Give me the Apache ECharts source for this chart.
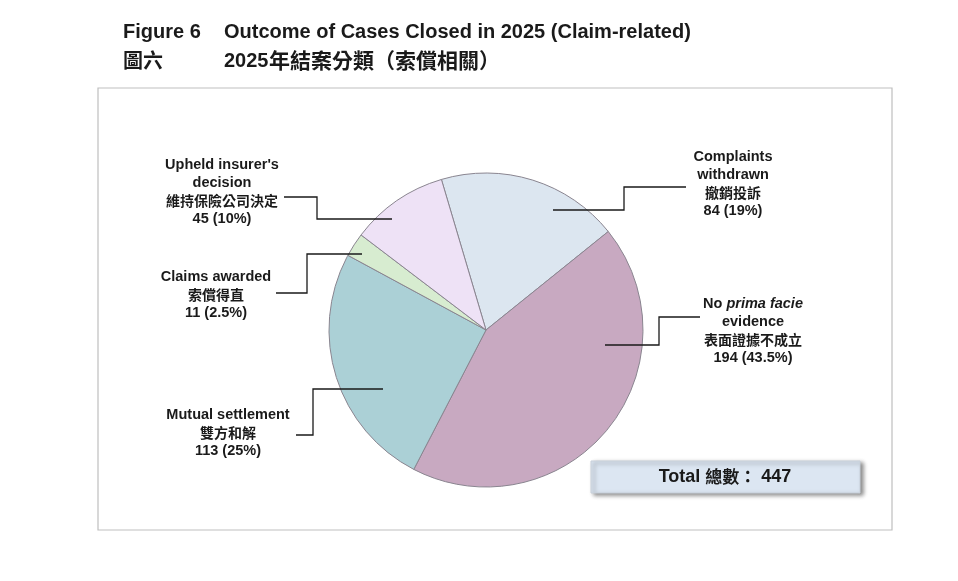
<!DOCTYPE html>
<html><head><meta charset="utf-8">
<script src="https://cdn.jsdelivr.net/npm/echarts@6/dist/echarts.min.js"></script>
<style>html,body{margin:0;padding:0;background:#fff}#c{width:958px;height:581px}</style>
</head><body><div id="c"></div>
<script>
// ---- data ----
const enLines = [["Complaints","withdrawn"],["No {i|prima facie}","evidence"],["Mutual settlement"],["Claims awarded"],["Upheld insurer's","decision"]];
const names = ["Complaints withdrawn","No prima facie evidence","Mutual settlement","Claims awarded","Upheld insurer's decision"];
const namesZh = ["撤銷投訴","表面證據不成立","雙方和解","索償得直","維持保險公司決定"];
const values = [84,194,113,11,45];
const pctLabels = ["19%","43.5%","25%","2.5%","10%"];
const colors = ["#dce6f0","#c8a9c1","#abd0d6","#d7ecd0","#eee2f6"];

// ---- layout (label centres and leader lines, px) ----
const labelPos = [[733,184],[753,331],[228,433],[216,295],[222,192]];
const leaderPts = [
  [[553,210],[624,210],[624,187],[686,187]],
  [[605,345],[659,345],[659,317],[700,317]],
  [[383,389],[313,389],[313,435],[296,435]],
  [[362,254],[307,254],[307,293],[276,293]],
  [[392,219],[317,219],[317,197],[284,197]]
];

const total = values.reduce((a,b)=>a+b,0);
const EN = "'Liberation Sans', Arial, sans-serif";
const ZH = "'Noto Sans CJK TC', 'Noto Sans CJK SC', sans-serif";
const rich = {
  b:{fontFamily:EN,fontWeight:'bold',fontSize:14.5,lineHeight:18,color:'#1a1a1a',align:'center'},
  i:{fontFamily:EN,fontWeight:'bold',fontStyle:'italic',fontSize:14.5,lineHeight:18,color:'#1a1a1a'},
  z:{fontFamily:ZH,fontWeight:'bold',fontSize:14,lineHeight:18,color:'#1a1a1a',align:'center'}
};
const pieBase = {
  type:'pie', center:[486,330], radius:157, startAngle:106.5, clockwise:true,
  avoidLabelOverlap:false, emphasis:{disabled:true}, silent:true
};

const chart = echarts.init(document.getElementById('c'));
chart.setOption({
  animation:false,
  backgroundColor:'#fff',
  graphic:[
    {type:'rect',shape:{x:98,y:88,width:794,height:442},style:{fill:'none',stroke:'#bfbfbf',lineWidth:1.2},z:0},
    {type:'text',left:123,top:22,style:{text:'Figure 6',font:"bold 20px 'Liberation Sans', Arial",fill:'#1a1a1a'}},
    {type:'text',left:224,top:22,style:{text:'Outcome of Cases Closed in 2025 (Claim-related)',font:"bold 20px 'Liberation Sans', Arial",fill:'#1a1a1a'}},
    {type:'text',style:{x:123,y:60,verticalAlign:'middle',text:'圖六',font:"bold 20px 'Noto Sans CJK TC'",fill:'#1a1a1a'}},
    {type:'text',style:{x:224,y:61,verticalAlign:'middle',text:'2025',font:"bold 20px 'Liberation Sans', Arial",fill:'#1a1a1a'}},
    {type:'text',style:{x:269,y:60,verticalAlign:'middle',text:'年結案分類（索償相關）',font:"bold 21px 'Noto Sans CJK TC'",fill:'#1a1a1a'}},
    {type:'rect',shape:{x:591,y:461,width:269,height:32},style:{fill:'#dce6f2',stroke:'#c8d0da',lineWidth:1,shadowBlur:4,shadowOffsetX:3,shadowOffsetY:2,shadowColor:'rgba(0,0,0,0.45)'},z:5},
    {type:'text',x:725,y:477,z:6,style:{rich:{a:{font:"bold 18px 'Liberation Sans', Arial",fill:'#1a1a1a'},c:{font:"bold 17px 'Noto Sans CJK TC'",fill:'#1a1a1a'}},text:'{a|Total }{c|總數：}{a| '+total+'}',align:'center',verticalAlign:'middle'}}
  ],
  series:[
    Object.assign({}, pieBase, {
      z:2,
      data: values.map((v,i)=>({name:names[i],value:v,itemStyle:{color:colors[i]}})),
      itemStyle:{borderColor:'#8a8590',borderWidth:1},
      label:{show:false}, labelLine:{show:false}
    }),
    Object.assign({}, pieBase, {
      z:3,
      data: values.map((v,i)=>({name:names[i],value:v})),
      itemStyle:{color:'rgba(0,0,0,0)',borderWidth:0},
      label:{
        show:true,position:'outside',
        formatter:p=>{
          const i=p.dataIndex;
          const en=enLines[i].map(l=>l.includes('{i|')? l.replace(/^([^{]*)/,'{b|$1}') : '{b|'+l+'}');
          return en.concat(['{z|'+namesZh[i]+'}','{b|'+values[i]+' ('+pctLabels[i]+')}']).join('\n');
        },
        rich:rich,
        color:'#1a1a1a',fontFamily:EN,fontWeight:'bold',fontSize:14.5,lineHeight:18,align:'center'
      },
      labelLine:{show:true,showAbove:true,lineStyle:{color:'#1a1a1a',width:1.3}},
      labelLayout:p=>{
        const i=p.dataIndex;
        return {x:labelPos[i][0],y:labelPos[i][1],align:'center',verticalAlign:'middle',labelLinePoints:leaderPts[i]};
      }
    })
  ]
});
</script></body></html>
